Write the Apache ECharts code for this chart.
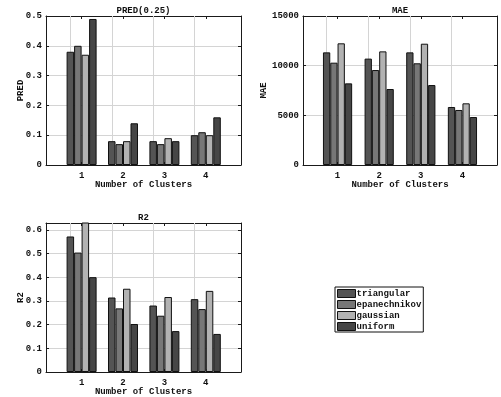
<!DOCTYPE html>
<html>
<head>
<meta charset="utf-8">
<script src="https://cdn.jsdelivr.net/npm/echarts@6/dist/echarts.min.js"></script>
<style>html,body{margin:0;padding:0;background:#fff;}#c{width:501px;height:397px;}</style>
</head>
<body>
<div id="c"></div>
<script>
// ---- data ----
const clusters = [1, 2, 3, 4];
const methods = ['triangular', 'epanechnikov', 'gaussian', 'uniform'];

const predTriangular   = [0.38, 0.08, 0.08, 0.10];
const predEpanechnikov = [0.40, 0.07, 0.07, 0.11];
const predGaussian     = [0.37, 0.08, 0.09, 0.10];
const predUniform      = [0.49, 0.14, 0.08, 0.16];

const maeTriangular   = [11340, 10710, 11340, 5840];
const maeEpanechnikov = [10300, 9560, 10240, 5540];
const maeGaussian     = [12250, 11440, 12210, 6210];
const maeUniform      = [8220, 7650, 8050, 4830];

const r2Triangular   = [0.573, 0.315, 0.281, 0.308];
const r2Epanechnikov = [0.505, 0.269, 0.238, 0.266];
const r2Gaussian     = [0.650, 0.352, 0.317, 0.343];
const r2Uniform      = [0.401, 0.203, 0.173, 0.161];

const predTicks = [0, 0.1, 0.2, 0.3, 0.4, 0.5];
const maeTicks = [0, 5000, 10000, 15000];
const r2Ticks = [0, 0.1, 0.2, 0.3, 0.4, 0.5, 0.6];

// ---- styling ----
const FONT = 'Liberation Mono';
const colors = ['#545454', '#777777', '#b2b2b2', '#464646'];
const axisColor = '#1a1a1a';
const gridColor = '#d4d4d4';

const panels = [
  { title: 'PRED(0.25)', yName: 'PRED', grid: {left: 46, top: 16, width: 195, height: 149},
    xMin: 0.14, xMax: 4.85, yMin: 0, yMax: 0.5, yInt: 0.1, yTicks: predTicks, nameGapY: 21, barW: 7.5,
    data: [predTriangular, predEpanechnikov, predGaussian, predUniform] },
  { title: 'MAE', yName: 'MAE', grid: {left: 303, top: 16, width: 194, height: 149},
    xMin: 0.17, xMax: 4.83, yMin: 0, yMax: 15000, yInt: 5000, yTicks: maeTicks, nameGapY: 35, barW: 7.3,
    data: [maeTriangular, maeEpanechnikov, maeGaussian, maeUniform] },
  { title: 'R2', yName: 'R2', grid: {left: 46, top: 223, width: 195, height: 149},
    xMin: 0.14, xMax: 4.85, yMin: 0, yMax: 0.63, yInt: 0.1, yTicks: r2Ticks, nameGapY: 21, barW: 7.5,
    data: [r2Triangular, r2Epanechnikov, r2Gaussian, r2Uniform] }
];

const txt = { fontFamily: FONT, fontWeight: 'bold', fontSize: 9, color: '#111' };

const option = {
  animation: false,
  backgroundColor: '#fff',
  title: [], grid: [], xAxis: [], yAxis: [], series: [],
  legend: {
    data: methods,
    orient: 'vertical',
    left: 335, top: 287,
    padding: [2, 2, 1, 2],
    itemWidth: 18, itemHeight: 8, itemGap: 2,
    icon: 'rect',
    borderColor: '#111', borderWidth: 1,
    itemStyle: { borderColor: '#111', borderWidth: 1 },
    textStyle: Object.assign({}, txt, { lineHeight: 9, padding: [0, 0, 0, -4] })
  }
};

panels.forEach((p, gi) => {
  option.grid.push(Object.assign({ containLabel: false }, p.grid));
  option.title.push({
    text: p.title,
    left: p.grid.left + p.grid.width / 2,
    top: p.grid.top - 10,
    textAlign: 'center',
    padding: 0,
    textStyle: txt
  });
  // bottom x axis
  option.xAxis.push({
    type: 'value', gridIndex: gi, position: 'bottom',
    min: p.xMin, max: p.xMax,
    name: 'Number of Clusters', nameLocation: 'middle', nameGap: 15,
    nameMoveOverlap: false,
    nameTextStyle: txt,
    axisLine: { show: true, onZero: false, lineStyle: { color: axisColor, width: 1 } },
    axisTick: { show: true, inside: true, length: 3, customValues: clusters, lineStyle: { color: axisColor } },
    axisLabel: Object.assign({ margin: 6, customValues: clusters }, txt),
    splitLine: { show: false }
  });
  // top x axis (frame)
  option.xAxis.push({
    type: 'value', gridIndex: gi, position: 'top',
    min: p.xMin, max: p.xMax,
    axisLine: { show: true, onZero: false, lineStyle: { color: axisColor, width: 1 } },
    axisTick: { show: true, inside: true, length: 3, customValues: clusters, lineStyle: { color: axisColor } },
    axisLabel: { show: false },
    splitLine: { show: false }
  });
  // left y axis
  option.yAxis.push({
    type: 'value', gridIndex: gi, position: 'left',
    min: p.yMin, max: p.yMax, interval: p.yInt,
    name: p.yName, nameLocation: 'middle', nameGap: p.nameGapY, nameRotate: 90,
    nameMoveOverlap: false,
    nameTextStyle: txt,
    axisLine: { show: true, onZero: false, lineStyle: { color: axisColor, width: 1 } },
    axisTick: { show: true, inside: true, length: 3, customValues: p.yTicks, lineStyle: { color: axisColor } },
    axisLabel: Object.assign({ margin: 4, customValues: p.yTicks, formatter: v => String(v) }, txt),
    splitLine: { show: true, lineStyle: { color: gridColor, width: 1 } }
  });
  // right y axis (frame)
  option.yAxis.push({
    type: 'value', gridIndex: gi, position: 'right',
    min: p.yMin, max: p.yMax, interval: p.yInt,
    axisLine: { show: true, onZero: false, lineStyle: { color: axisColor, width: 1 } },
    axisTick: { show: true, inside: true, length: 3, customValues: p.yTicks, lineStyle: { color: axisColor } },
    axisLabel: { show: false },
    splitLine: { show: false }
  });
  methods.forEach((m, si) => {
    const s = {
      name: m, type: 'bar',
      xAxisIndex: gi * 2, yAxisIndex: gi * 2,
      data: clusters.map((c, i) => [c, p.data[si][i]]),
      barWidth: p.barW, barGap: '0%',
      clip: true,
      z: 3,
      itemStyle: { color: colors[si], borderColor: '#111', borderWidth: 1 }
    };
    if (si === 0) {
      s.markLine = {
        silent: true, symbol: 'none', z: 1,
        label: { show: false },
        lineStyle: { color: gridColor, width: 1, type: 'solid' },
        emphasis: { disabled: true },
        data: clusters.map(c => ({ xAxis: c }))
      };
    }
    option.series.push(s);
  });
});

const chart = echarts.init(document.getElementById('c'), null, { renderer: 'canvas' });
chart.setOption(option);
</script>
</body>
</html>
